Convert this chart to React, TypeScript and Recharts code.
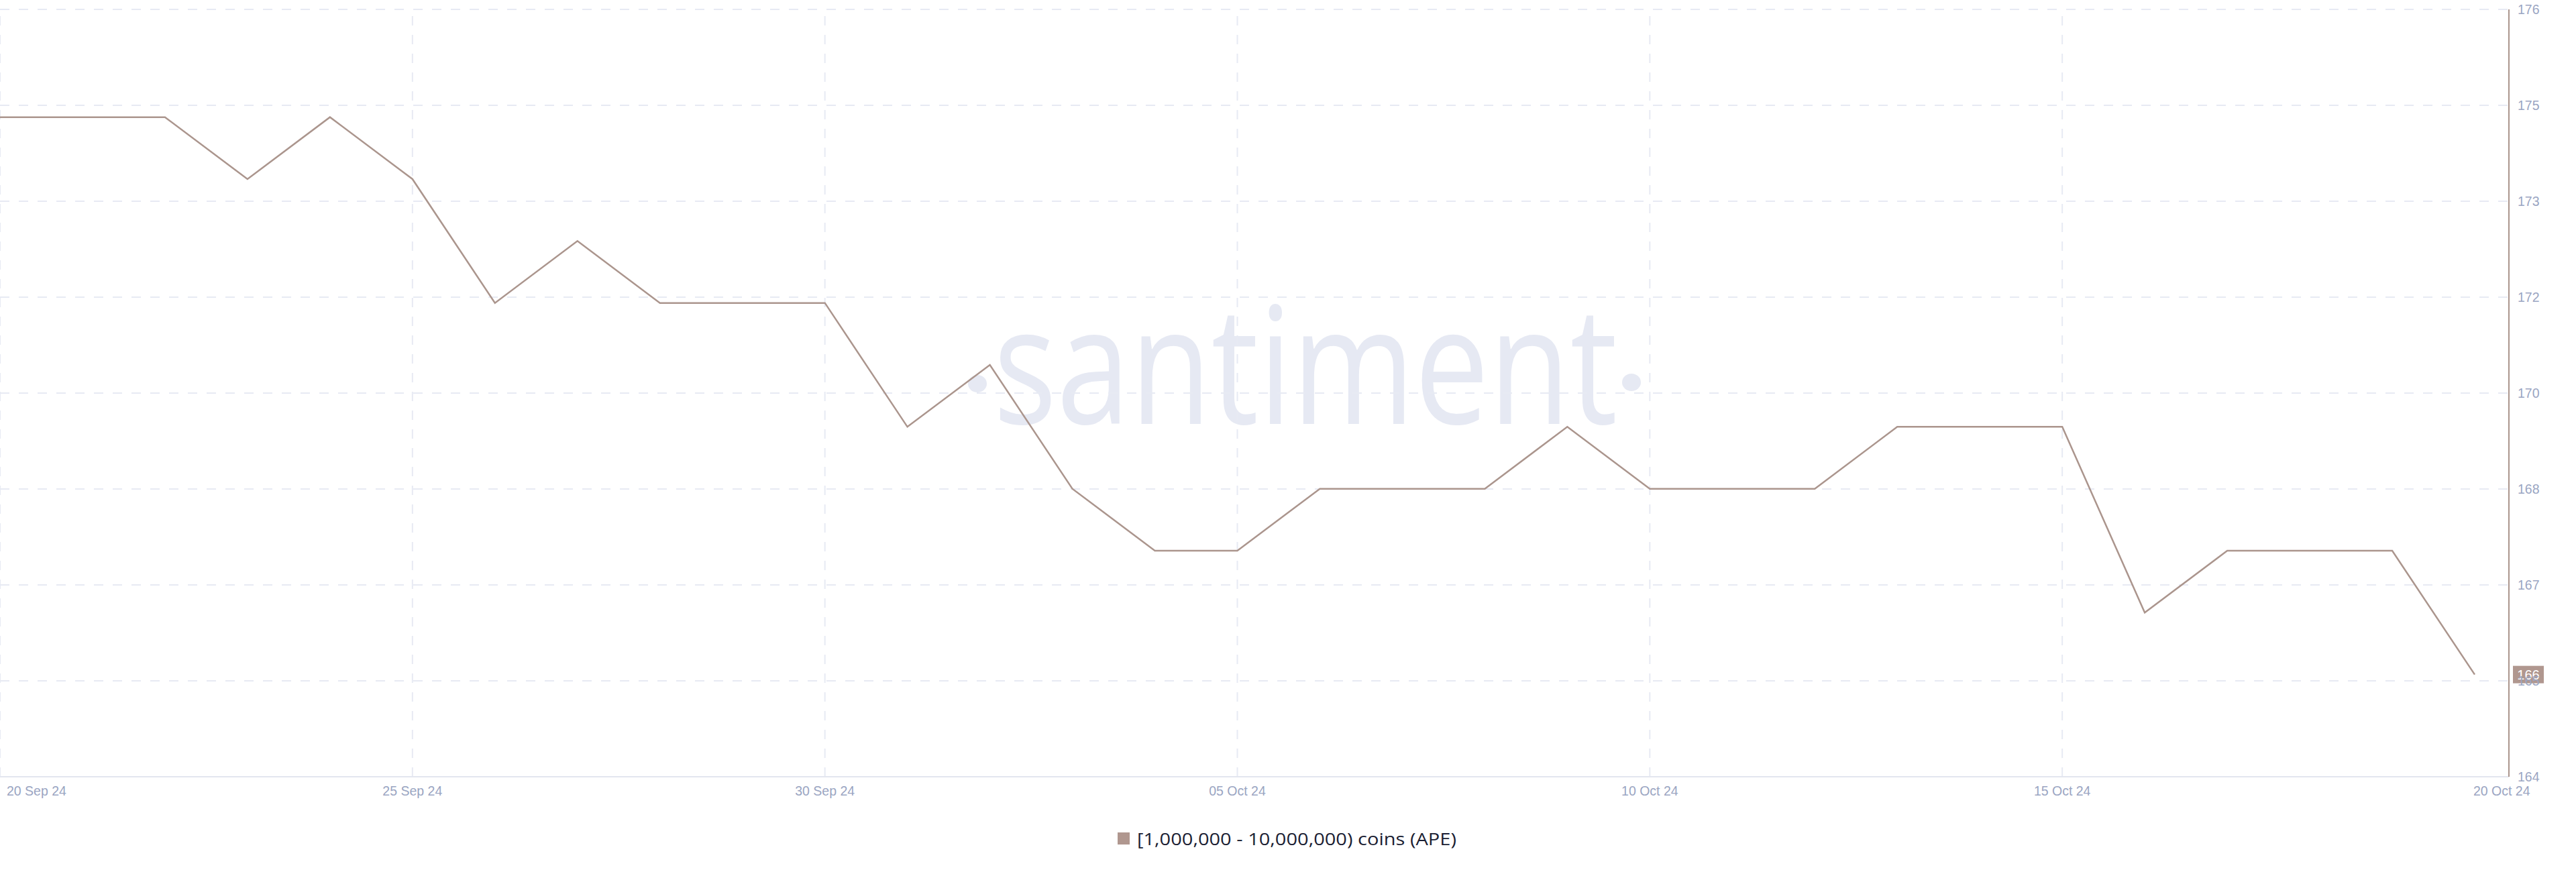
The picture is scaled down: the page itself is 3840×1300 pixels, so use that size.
import React from 'react';
import { LineChart, Line, XAxis, YAxis, CartesianGrid, ReferenceLine } from 'recharts';

// ---- data ----
const dates = [
  '20 Sep 24', '21 Sep 24', '22 Sep 24', '23 Sep 24', '24 Sep 24', '25 Sep 24',
  '26 Sep 24', '27 Sep 24', '28 Sep 24', '29 Sep 24', '30 Sep 24',
  '01 Oct 24', '02 Oct 24', '03 Oct 24', '04 Oct 24', '05 Oct 24', '06 Oct 24',
  '07 Oct 24', '08 Oct 24', '09 Oct 24', '10 Oct 24', '11 Oct 24', '12 Oct 24',
  '13 Oct 24', '14 Oct 24', '15 Oct 24', '16 Oct 24', '17 Oct 24', '18 Oct 24',
  '19 Oct 24', '20 Oct 24',
];
const holders = [
  175, 175, 175, 174, 175, 174,
  172, 173, 172, 172, 172,
  170, 171, 169, 168, 168, 169,
  169, 169, 170, 169, 169, 169,
  170, 170, 170, 167, 168, 168,
  168, 166,
];
const xTickDates = ['20 Sep 24', '25 Sep 24', '30 Sep 24', '05 Oct 24', '10 Oct 24', '15 Oct 24', '20 Oct 24'];
const xGridDates = ['20 Sep 24', '25 Sep 24', '30 Sep 24', '05 Oct 24', '10 Oct 24', '15 Oct 24'];
const yDomain = [164.35, 176.74];
const yTickValues = [164.35, 165.899, 167.448, 168.996, 170.545, 172.094, 173.643, 175.191, 176.74];
const yTickLabels = ['164', '165', '167', '168', '170', '172', '173', '175', '176'];
const seriesName = '[1,000,000 - 10,000,000) coins (APE)';
const watermarkText = 'santiment';

const data = dates.map((d, i) => ({ date: d, value: holders[i] }));
const lastValue = holders[holders.length - 1];

// ---- styles ----
const LINE_COLOR = '#ab958d';
const BOX_COLOR = '#b0978f';
const GRID_COLOR = '#e7eaf3';
const TICK_COLOR = '#9aa5c2';
const TICK_FONT = '"Liberation Sans", Arial, sans-serif';

const XTick = (props: any) => {
  const { x, y, payload } = props;
  const v = payload.value;
  let anchor: 'start' | 'middle' = 'middle';
  let tx = x;
  if (v === xTickDates[0]) { anchor = 'start'; tx = x + 10; }
  else if (v === xTickDates[xTickDates.length - 1]) { anchor = 'start'; tx = x - 2; }
  return (
    <text x={tx} y={y + 20.5} textAnchor={anchor} dominantBaseline="central"
      fill={TICK_COLOR} fontSize={19.5} fontFamily={TICK_FONT}>{v}</text>
  );
};

const YTick = (props: any) => {
  const { x, y, payload } = props;
  const idx = yTickValues.indexOf(payload.value);
  return (
    <text x={x} y={y} textAnchor="start" dominantBaseline="central"
      fill={TICK_COLOR} fontSize={19.5} fontFamily={TICK_FONT}>{idx >= 0 ? yTickLabels[idx] : ''}</text>
  );
};

const LastLabel = (props: any) => {
  const vb = props.viewBox || {};
  const bx = vb.x + vb.width + 6;
  const cy = vb.y;
  return (
    <g>
      <rect x={bx} y={cy - 13} width={46} height={26} fill={BOX_COLOR} />
      <text x={bx + 23} y={cy + 0.5} textAnchor="middle" dominantBaseline="central"
        fill="#ffffff" fontSize={20} fontFamily={TICK_FONT}>{String(lastValue)}</text>
    </g>
  );
};

export default function App() {
  return (
    <div style={{ position: 'absolute', left: 0, top: 0, width: 3840, height: 1300, background: '#ffffff' }}>
      <svg width={3840} height={1300} style={{ position: 'absolute', left: 0, top: 0 }}>
        <text x={1481} y={632} fontSize={243} fontFamily='"Open Sans", sans-serif'
          textLength={930} lengthAdjust="spacingAndGlyphs" fill="#e6e9f3">{watermarkText}</text>
        <ellipse cx={1457} cy={572} rx={14} ry={13} fill="#e6e9f3" />
        <ellipse cx={2432} cy={570} rx={14} ry={13} fill="#e6e9f3" />
        <rect x={1666} y={1241} width={18} height={18} fill={BOX_COLOR} />
        <text x={1695} y={1250} dominantBaseline="central" fontSize={26}
          fontFamily='"Open Sans", sans-serif' textLength={476} lengthAdjust="spacingAndGlyphs"
          fill="#1b1e33">{seriesName}</text>
      </svg>
      <div style={{ position: 'absolute', left: 0, top: 0 }}>
        <LineChart width={3840} height={1300} data={data}
          margin={{ top: 14, right: 0, bottom: 102, left: 0 }}>
          <CartesianGrid vertical={false} stroke={GRID_COLOR} strokeWidth={2} strokeDasharray="14 14" />
          {xGridDates.map((d) => (
            <ReferenceLine key={d} x={d} stroke={GRID_COLOR} strokeWidth={2} strokeDasharray="14 14" />
          ))}
          <XAxis dataKey="date" ticks={xTickDates} interval={0} padding={{ left: 0, right: 51 }}
            axisLine={{ stroke: '#e3e6ef', strokeWidth: 2 }} tickLine={false} tickSize={0} tickMargin={0}
            height={40} tick={<XTick />} />
          <YAxis orientation="right" domain={yDomain} ticks={yTickValues} allowDataOverflow
            width={100} axisLine={{ stroke: LINE_COLOR, strokeWidth: 2 }} tickLine={false}
            tickSize={0} tickMargin={13} tick={<YTick />} />
          <Line type="linear" dataKey="value" name={seriesName} stroke={LINE_COLOR} strokeWidth={2.5}
            dot={false} activeDot={false} isAnimationActive={false} />
          <ReferenceLine y={lastValue} stroke="none" label={(p: any) => <LastLabel {...p} />} />
        </LineChart>
      </div>
    </div>
  );
}
